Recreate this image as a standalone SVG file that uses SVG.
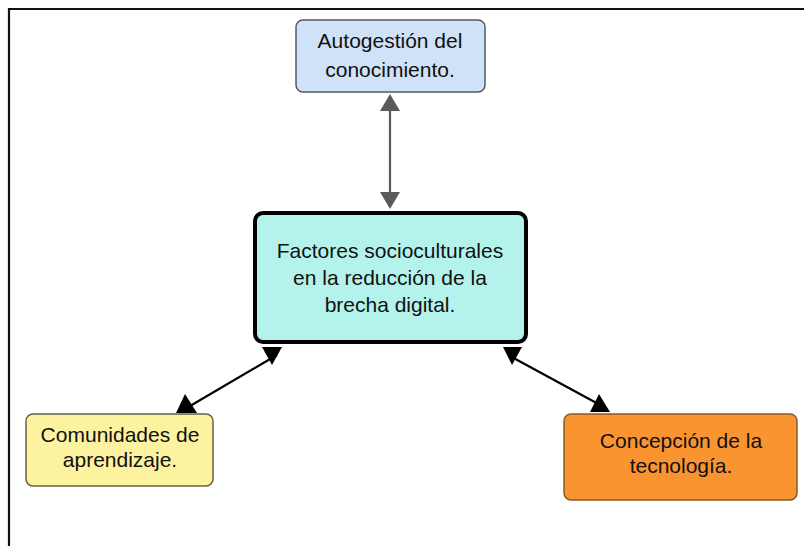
<svg xmlns="http://www.w3.org/2000/svg" width="804" height="546" viewBox="0 0 804 546">
<style>
.t{font-family:"Liberation Sans",Arial,sans-serif;font-size:21px;fill:#111;text-anchor:middle}
.ln{fill:none;stroke-width:2.2}
.blk{fill:#000}
.gry{fill:#5a5a5a}
</style>
<rect x="0" y="0" width="804" height="546" fill="#fff"/>
<path d="M9,546 V9 H804" fill="none" stroke="#111" stroke-width="2.2"/>
<g id="connectors">
  <line class="ln" x1="390" y1="105" x2="390" y2="196" stroke="#5a5a5a"/>
  <polygon class="gry" points="390,94 380,111 400,111"/>
  <polygon class="gry" points="380,192 400,192 390,209"/>
  <line class="ln" x1="277" y1="355" x2="190" y2="406" stroke="#000"/>
  <polygon class="blk" points="262,347 282,347 272,365"/>
  <polygon class="blk" points="185,394 176,413 197,413"/>
  <line class="ln" x1="508" y1="355" x2="602" y2="406" stroke="#000"/>
  <polygon class="blk" points="503,347 522,347 512,365"/>
  <polygon class="blk" points="599,394 590,412 610,412"/>
</g>
<g id="node-top">
  <rect x="296" y="20" width="189" height="72" rx="7" fill="#cfe2f8" stroke="#555a62" stroke-width="1.5"/>
  <text class="t" x="390" y="48">Autogestión del</text>
  <text class="t" x="390" y="77">conocimiento.</text>
</g>
<g id="node-center">
  <rect x="255" y="213" width="271" height="129" rx="8" fill="#b4f3ec" stroke="#000" stroke-width="4"/>
  <text class="t" x="390" y="258">Factores socioculturales</text>
  <text class="t" x="390" y="285">en la reducción de la</text>
  <text class="t" x="390" y="312">brecha digital.</text>
</g>
<g id="node-left">
  <rect x="26" y="414" width="187" height="72" rx="7" fill="#fdf2a0" stroke="#66624a" stroke-width="1.5"/>
  <text class="t" x="120" y="442">Comunidades de</text>
  <text class="t" x="120" y="467">aprendizaje.</text>
</g>
<g id="node-right">
  <rect x="564" y="414" width="233" height="86" rx="7" fill="#fa9431" stroke="#8a5a24" stroke-width="1.5"/>
  <text class="t" x="681" y="448">Concepción de la</text>
  <text class="t" x="681" y="473">tecnología.</text>
</g>
</svg>
